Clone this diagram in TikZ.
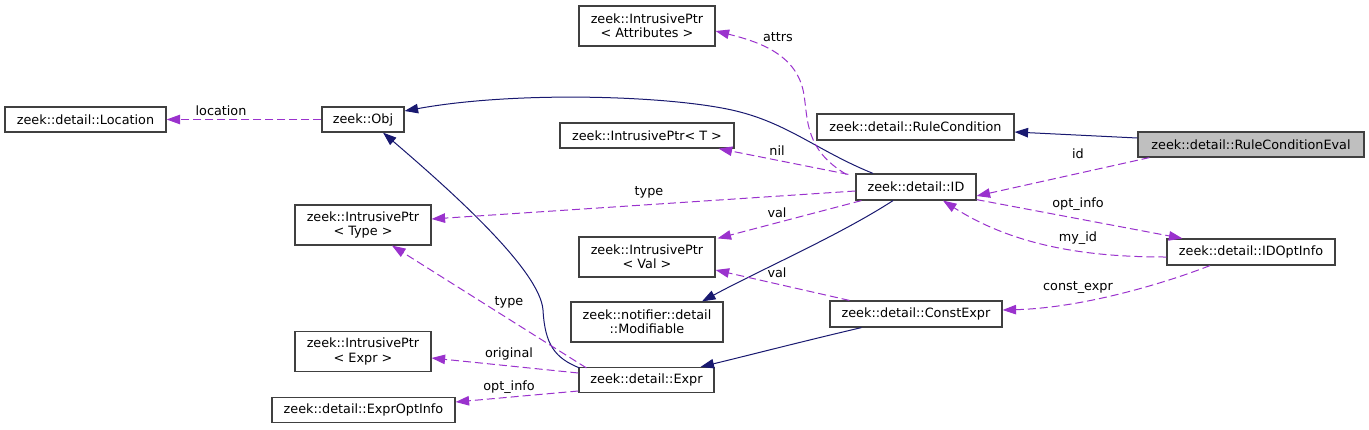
\documentclass[tikz,border=0pt]{standalone}
\usepackage{fontspec}
\setmainfont{DejaVu Sans}
\usepackage{tikz}
\usetikzlibrary{arrows.meta, positioning}
\definecolor{dxnavy}{HTML}{191970}
\definecolor{dxpurple}{HTML}{9A32CD}
\definecolor{dxborder}{HTML}{404040}
\definecolor{dxfocus}{HTML}{BFBFBF}

\begin{document}
\begin{tikzpicture}[
    x=1pt, y=-1pt,
    cls/.style={rectangle, draw=dxborder, fill=white, line width=1.2pt, align=center, inner sep=1pt, minimum height=25pt, font=\fontsize{12.8}{14.2}\selectfont},
    twoline/.style={cls, minimum height=40pt},
    focus/.style={cls, fill=dxfocus},
    lbl/.style={inner sep=0pt, font=\fontsize{12.8}{14.2}\selectfont},
    inherit/.style={-{Triangle[length=13.5pt, width=9.5pt]}, line width=1pt, dxnavy},
    usage/.style={-{Triangle[length=13.5pt, width=9.5pt]}, line width=1pt, dxpurple, dash pattern=on 8pt off 4pt}
]
\useasboundingbox (0,0) rectangle (1369,429);

% classes
\node[cls, minimum width=161pt] (loc) at (85.5,119.5) {zeek::detail::Location};
\node[cls, minimum width=82pt] (obj) at (363,119.5) {zeek::Obj};
\node[twoline, minimum width=136pt] (ptype) at (363,225) {zeek::IntrusivePtr\\< Type >};
\node[twoline, minimum width=136pt] (pexpr) at (363,351.5) {zeek::IntrusivePtr\\< Expr >};
\node[cls, minimum width=183pt] (eopt) at (363.5,410) {zeek::detail::ExprOptInfo};
\node[twoline, minimum width=136pt] (pattr) at (647,26) {zeek::IntrusivePtr\\< Attributes >};
\node[cls, minimum width=174pt] (pT) at (647,135.5) {zeek::IntrusivePtr< T >};
\node[twoline, minimum width=136pt] (pval) at (647,257) {zeek::IntrusivePtr\\< Val >};
\node[twoline, minimum width=152pt] (modif) at (647,322) {zeek::notifier::detail\\::Modifiable};
\node[cls, minimum width=135pt] (expr) at (646.5,380) {zeek::detail::Expr};
\node[cls, minimum width=120pt, minimum height=26pt] (id) at (916,187) {zeek::detail::ID};
\node[cls, minimum width=197pt, minimum height=26pt] (rcond) at (915.5,127) {zeek::detail::RuleCondition};
\node[cls, minimum width=172pt, minimum height=26pt] (cexpr) at (916,314) {zeek::detail::ConstExpr};
\node[focus, minimum width=226pt] (rceval) at (1251,144.5) {zeek::detail::RuleConditionEval};
\node[cls, minimum width=168pt, minimum height=26pt] (idopt) at (1251,252) {zeek::detail::IDOptInfo};

% inheritance
\draw[inherit] ([yshift=6.5pt]rceval.west) -- ([yshift=-5pt]rcond.east);
\draw[inherit] ([xshift=-43pt]id.north) .. controls (820,152) and (790,125) .. (740,112)
    .. controls (680,96) and (520,90) .. ([yshift=8.5pt]obj.east);
\draw[inherit] ([xshift=1pt,yshift=-1pt]expr.north west) .. controls (555,358) and (545,345) .. (543,310)
    .. controls (540,270) and (450,190) .. ([xshift=20pt]obj.south);
\draw[inherit] ([xshift=-23pt]id.south) .. controls (840,235) and (760,270) .. ([xshift=55pt]modif.north);
\draw[inherit] ([xshift=32pt]cexpr.south west) .. controls (800,342) and (750,355) .. ([xshift=54pt]expr.north);

% members
\draw[usage] (obj.west) -- (loc.east);
\node[lbl] (l-location) at (221,111) {location};
\draw[usage] ([xshift=-9pt,yshift=-1pt]id.north west) .. controls (805,150) and (808,120) .. (804,95)
    .. controls (798,55) and (760,42) .. ([yshift=-5pt]pattr.east);
\node[lbl] (l-attrs) at (778,37) {attrs};
\draw[usage] ([xshift=-7pt,yshift=-1pt]id.north west) -- ([xshift=-16pt]pT.south east);
\node[lbl] (l-nil) at (777,151) {nil};
\draw[usage] ([yshift=-4pt]id.west) -- ([yshift=6pt]ptype.east);
\node[lbl] (l-type1) at (649,192) {type};
\draw[usage] ([xshift=6pt]id.south west) -- ([xshift=2pt,yshift=-2pt]pval.north east);
\node[lbl] (l-val1) at (777,213) {val};
\draw[usage] ([xshift=12pt]rceval.south west) -- ([yshift=-9pt]id.east);
\node[lbl] (l-id) at (1078,154) {id};
\draw[usage] ([yshift=1pt]id.south east) -- ([xshift=16pt]idopt.north west);
\node[lbl] (l-optinfo1) at (1078,204) {opt\_info};
\draw[usage] ([yshift=-5pt]idopt.west) .. controls (1100,257) and (1020,250) .. ([xshift=27pt]id.south);
\node[lbl] (l-myid) at (1078,238) {my\_id};
\draw[usage] ([xshift=-41pt]idopt.south) .. controls (1160,285) and (1080,308) .. ([yshift=4pt]cexpr.east);
\node[lbl] (l-constexpr) at (1078,288) {const\_expr};
\draw[usage] ([xshift=20pt]cexpr.north west) -- ([yshift=-13pt]pval.east);
\node[lbl] (l-val2) at (777,273) {val};
\draw[usage] ([xshift=8pt,yshift=-1pt]expr.north west) -- ([xshift=29pt]ptype.south);
\node[lbl] (l-type2) at (509,302) {type};
\draw[usage] ([yshift=7pt]expr.west) -- ([yshift=-6.5pt]pexpr.east);
\node[lbl] (l-original) at (509,354) {original};
\draw[usage] ([yshift=-11pt]expr.west) -- ([yshift=8pt]eopt.east);
\node[lbl] (l-optinfo2) at (509,387) {opt\_info};
\end{tikzpicture}
\end{document}
